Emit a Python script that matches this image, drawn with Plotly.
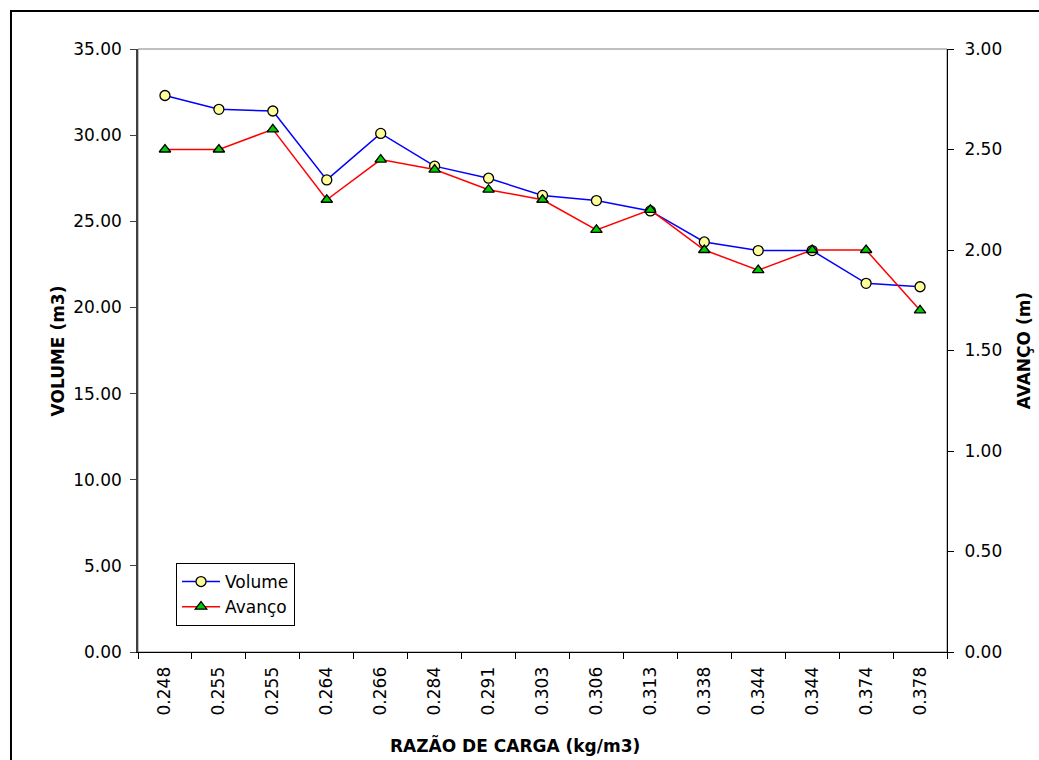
import plotly.graph_objects as go

categories = ["0.248", "0.255", "0.255", "0.264", "0.266", "0.284", "0.291", "0.303",
              "0.306", "0.313", "0.338", "0.344", "0.344", "0.374", "0.378"]
volume = [32.3, 31.5, 31.4, 27.4, 30.1, 28.2, 27.5, 26.5, 26.2, 25.6, 23.8, 23.3, 23.3, 21.4, 21.2]
avanco = [2.50, 2.50, 2.60, 2.25, 2.45, 2.40, 2.30, 2.25, 2.10, 2.20, 2.00, 1.90, 2.00, 2.00, 1.70]

pos = list(range(1, len(categories) + 1))
bounds = [p - 0.5 for p in pos] + [pos[-1] + 0.5]
xr = [bounds[0], bounds[-1]]

FONT = "DejaVu Sans"
fig = go.Figure()
fig.add_trace(go.Scatter(
    x=pos, y=volume, name="Volume", mode="lines+markers",
    line=dict(color="#0000FF", width=1.5),
    marker=dict(symbol="circle", size=10, color="#FFFF99", line=dict(color="black", width=1.3)),
    xaxis="x", yaxis="y"))
fig.add_trace(go.Scatter(
    x=pos, y=avanco, name="Avanço", mode="lines+markers",
    line=dict(color="#FF0000", width=1.5),
    marker=dict(symbol="triangle-up", size=10, color="#00CC00", line=dict(color="black", width=1.3)),
    xaxis="x", yaxis="y2"))

tickfont = dict(family=FONT, size=17, color="black")
fig.update_layout(
    width=1039, height=760,
    margin=dict(l=138, r=92, t=49, b=108),
    paper_bgcolor="white", plot_bgcolor="white",
    font=dict(family=FONT, size=17, color="black"),
    showlegend=True,
    legend=dict(x=0.047, y=0.1476, xanchor="left", yanchor="top",
                bgcolor="white", bordercolor="black", borderwidth=1,
                font=dict(family=FONT, size=17, color="black"),
                tracegroupgap=0, itemwidth=38),
    xaxis=dict(range=xr, tickmode="array", tickvals=pos, ticktext=categories,
               tickangle=-90, ticks="", tickfont=tickfont, showgrid=False, zeroline=False,
               showline=True, linecolor="black", linewidth=1, ticklabelstandoff=7,
               minor=dict(tickmode="array", tickvals=bounds, ticks="outside",
                          ticklen=6, tickcolor="black", tickwidth=1, showgrid=False),
               anchor="y"),
    xaxis2=dict(range=xr, overlaying="x", anchor="y", side="bottom",
                tickmode="array", tickvals=bounds, ticks="inside", ticklen=6,
                tickcolor="black", showticklabels=False, showgrid=False,
                zeroline=False, showline=False),
    yaxis=dict(range=[0, 35], tickmode="linear", tick0=0, dtick=5, tickformat=".2f",
               ticks="outside", ticklen=6, tickcolor="#404040", tickfont=tickfont,
               ticklabelstandoff=5,
               showgrid=False, zeroline=False, showline=True, linecolor="#404040",
               linewidth=1.5, anchor="x"),
    yaxis2=dict(range=[0, 3], tickmode="linear", tick0=0, dtick=0.5, tickformat=".2f",
                ticks="outside", ticklen=6, tickcolor="black", tickfont=tickfont,
                ticklabelstandoff=7,
                overlaying="y", side="right", anchor="x",
                showgrid=False, zeroline=False, showline=True, linecolor="black", linewidth=1),
    yaxis3=dict(range=[0, 35], tickmode="linear", tick0=0, dtick=5, ticks="inside",
                ticklen=6, tickcolor="#404040", showticklabels=False, overlaying="y",
                side="left", anchor="x", showgrid=False, zeroline=False, showline=False),
    yaxis4=dict(range=[0, 3], tickmode="linear", tick0=0, dtick=0.5, ticks="inside",
                ticklen=6, tickcolor="black", showticklabels=False, overlaying="y",
                side="right", anchor="x", showgrid=False, zeroline=False, showline=False),
)

# plot area border (grey) and outer chart border (black)
fig.add_shape(type="rect", xref="paper", yref="paper", x0=0, x1=1, y0=0, y1=1,
              line=dict(color="#808080", width=1), layer="below")
fig.add_shape(type="rect", xref="paper", yref="paper", x0=-0.157, x1=1.12, y0=-0.19, y1=1.063,
              line=dict(color="black", width=2), layer="below")

fig.add_annotation(text="<b>VOLUME (m3)</b>", xref="paper", yref="paper", x=-0.099, y=0.5,
                   textangle=-90, showarrow=False, xanchor="center", yanchor="middle",
                   font=dict(family=FONT, size=17, color="black"))
fig.add_annotation(text="<b>AVANÇO (m)</b>", xref="paper", yref="paper", x=1.095, y=0.5,
                   textangle=-90, showarrow=False, xanchor="center", yanchor="middle",
                   font=dict(family=FONT, size=17, color="black"))
fig.add_annotation(text="<b>RAZÃO DE CARGA (kg/m3)</b>", xref="paper", yref="paper",
                   x=0.466, y=-0.154, showarrow=False, xanchor="center", yanchor="middle",
                   font=dict(family=FONT, size=17, color="black"))

fig.write_html("out.html")
